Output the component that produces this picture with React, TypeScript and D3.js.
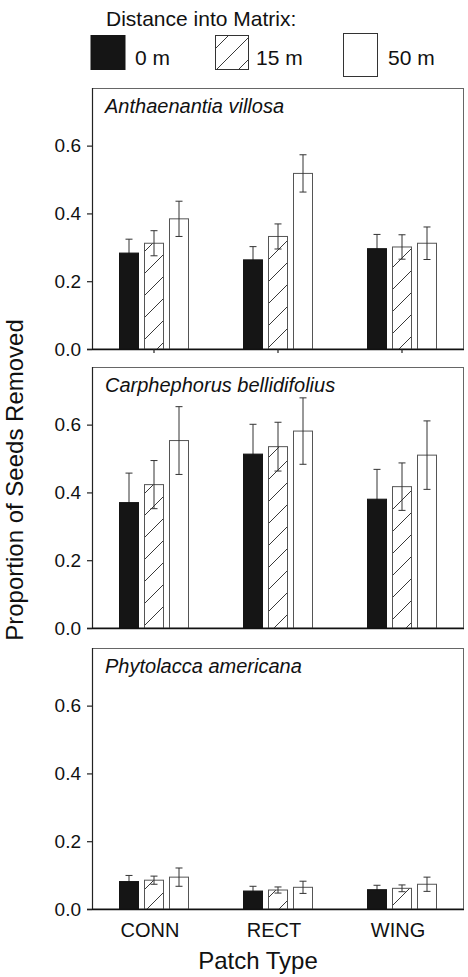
import React from "react";
import * as d3 from "d3";

const patchTypes = ["CONN", "RECT", "WING"];
const distances = ["0 m", "15 m", "50 m"];
const species = ["Anthaenantia villosa", "Carphephorus bellidifolius", "Phytolacca americana"];
const yTicks = [0, 0.2, 0.4, 0.6];

// means[distance][patch]
const meansAnthaenantia = [
  [0.283, 0.263, 0.296],
  [0.312, 0.332, 0.301],
  [0.384, 0.518, 0.312],
];
const seAnthaenantia = [
  [0.041, 0.039, 0.042],
  [0.037, 0.037, 0.036],
  [0.052, 0.055, 0.048],
];
const meansCarphephorus = [
  [0.370, 0.513, 0.380],
  [0.423, 0.535, 0.417],
  [0.553, 0.581, 0.510],
];
const seCarphephorus = [
  [0.087, 0.088, 0.088],
  [0.071, 0.072, 0.070],
  [0.100, 0.098, 0.101],
];
const meansPhytolacca = [
  [0.081, 0.053, 0.057],
  [0.085, 0.056, 0.061],
  [0.094, 0.064, 0.073],
];
const sePhytolacca = [
  [0.018, 0.014, 0.013],
  [0.012, 0.009, 0.010],
  [0.027, 0.018, 0.021],
];

const allMeans = [meansAnthaenantia, meansCarphephorus, meansPhytolacca];
const allSE = [seAnthaenantia, seCarphephorus, sePhytolacca];

const FONT = "'Liberation Sans', Arial, Helvetica, sans-serif";
const W = 468;
const H = 977;
const left = 92;
const right = 464;
const panelTops = [88, 367, 648];
const panelH = 261;
const yMax = 0.77;
const barW = 20;
const barStep = 25;

export default function App() {
  const x = d3.scaleBand<string>().domain(patchTypes).range([left, right]).padding(0);
  const offsets = d3.scaleLinear().domain([0, 2]).range([-barStep, barStep]);

  const fills = ["#151515", "url(#hatch)", "#ffffff"];
  const strokes = ["#151515", "#555", "#555"];

  return (
    <svg width={W} height={H} style={{ position: "absolute", left: 0, top: 0, background: "#fff" }}
      fontFamily={FONT}>
      <defs>
        <pattern id="hatch" patternUnits="userSpaceOnUse" width={22} height={22}>
          <rect width={22} height={22} fill="#fff" />
          <path d="M0,22 L22,0 M-11,11 L11,-11 M11,33 L33,11" stroke="#222" strokeWidth={0.9} />
        </pattern>
      </defs>

      {/* Legend */}
      <text x={106} y={26} fontSize={21} fill="#111">Distance into Matrix:</text>
      <rect x={91} y={35.5} width={34} height={34} fill="#151515" stroke="#151515" />
      <text x={135} y={65} fontSize={21} fill="#111">{distances[0]}</text>
      <rect x={215.5} y={35.5} width={33} height={34} fill="url(#hatch)" stroke="#333" />
      <text x={256} y={65} fontSize={21} fill="#111">{distances[1]}</text>
      <rect x={343.5} y={33.5} width={34} height={43} fill="#fff" stroke="#333" />
      <text x={388} y={65} fontSize={21} fill="#111">{distances[2]}</text>

      {species.map((sp, si) => {
        const top = panelTops[si];
        const bottom = top + panelH;
        const y = d3.scaleLinear().domain([0, yMax]).range([bottom, top]);
        const means = allMeans[si];
        const ses = allSE[si];
        return (
          <g key={sp}>
            {/* frame */}
            <rect x={left + 0.5} y={top + 0.5} width={right - left - 1} height={panelH - 0.5}
              fill="none" stroke="#666" strokeWidth={1} />
            {/* bars */}
            {distances.map((dist, di) =>
              patchTypes.map((pt, pi) => {
                const cx = (x(pt) as number) + x.bandwidth() / 2 + offsets(di);
                const m = means[di][pi];
                const se = ses[di][pi];
                const bx = cx - barW / 2;
                const errBar = (
                  <g stroke="#333" strokeWidth={1}>
                    <line x1={cx} x2={cx} y1={y(m + se)} y2={y(m - se)} />
                    <line x1={cx - 3.5} x2={cx + 3.5} y1={y(m + se)} y2={y(m + se)} />
                    <line x1={cx - 3.5} x2={cx + 3.5} y1={y(m - se)} y2={y(m - se)} />
                  </g>
                );
                return (
                  <g key={dist + pt}>
                    {di === 0 && errBar}
                    <rect x={bx + 0.5} y={y(m)} width={barW - 1} height={y(0) - y(m)}
                      fill={fills[di]} stroke={strokes[di]} strokeWidth={1} />
                    {di !== 0 && errBar}
                  </g>
                );
              })
            )}
            {/* axes */}
            <line x1={left + 0.5} x2={left + 0.5} y1={top} y2={bottom} stroke="#222" strokeWidth={1.2} />
            <line x1={left - 5} x2={right} y1={bottom + 0.5} y2={bottom + 0.5} stroke="#111" strokeWidth={1.3} />
            {yTicks.map((t) => (
              <g key={t}>
                <line x1={left - 5} x2={left} y1={y(t) + 0.5} y2={y(t) + 0.5} stroke="#222" strokeWidth={1.2} />
                <text x={left - 11} y={y(t)} dy="0.35em" textAnchor="end" fontSize={19} fill="#111">
                  {d3.format(".1f")(t)}
                </text>
              </g>
            ))}
            {si === 0 &&
              patchTypes.map((pt) => {
                const cx = (x(pt) as number) + x.bandwidth() / 2;
                return <line key={pt} x1={cx} x2={cx} y1={bottom} y2={bottom + 4} stroke="#222" strokeWidth={1.2} />;
              })}
            <text x={left + 13} y={top + 25} fontSize={20} fontStyle="italic" fill="#111">{sp}</text>
          </g>
        );
      })}

      {/* x tick labels */}
      {patchTypes.map((pt) => (
        <text key={pt} x={(x(pt) as number) + x.bandwidth() / 2 - 4} y={937} textAnchor="middle" fontSize={20} fill="#111">
          {pt}
        </text>
      ))}
      <text x={258} y={969} textAnchor="middle" fontSize={24} fill="#111">Patch Type</text>
      <text transform="translate(23,480) rotate(-90)" textAnchor="middle" fontSize={24} fill="#111">
        Proportion of Seeds Removed
      </text>
    </svg>
  );
}
